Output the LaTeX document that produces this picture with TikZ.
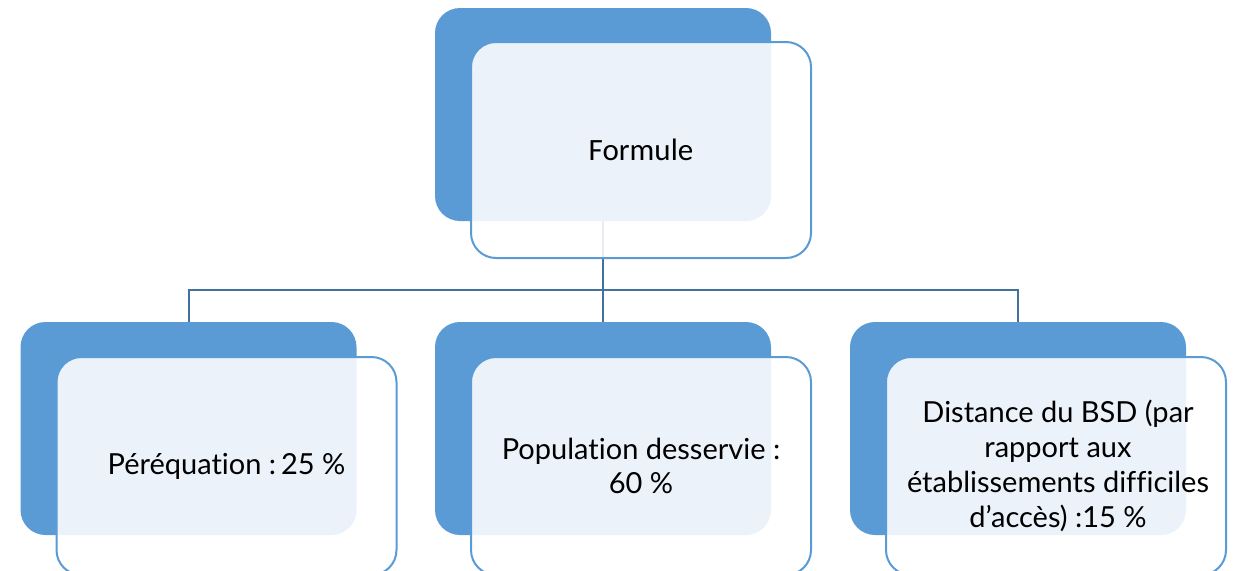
\documentclass[tikz,border=0pt]{standalone}
\usepackage{fontspec}
\setmainfont{Lato}[Ligatures={NoCommon}]
\newfontfamily\calib{Carlito}
\definecolor{accent}{HTML}{5B9BD5}
\definecolor{linkc}{HTML}{41719C}
\begin{document}
\begin{tikzpicture}[x=1pt,y=-1pt,
  backbox/.style={fill=accent, draw=none, rounded corners=25pt, minimum width=336pt, minimum height=213pt, inner sep=0pt},
  frontbox/.style={draw=accent, line width=2pt, fill=white, fill opacity=0.88, text opacity=1, rounded corners=25pt, minimum width=340pt, minimum height=216pt, inner sep=0pt, align=center, font=\fontsize{29}{34.8}\selectfont},
  link/.style={draw=linkc, line width=2pt}]
\useasboundingbox (0,0) rectangle (1236,570);
% back boxes
\node[backbox] (tb) at (603,114.5) {};
\node[backbox] (lb) at (188.5,428.5) {};
\node[backbox] (mb) at (603,428.5) {};
\node[backbox] (rb) at (1018,428.5) {};
% connectors
\coordinate (hub) at (603,290);
\draw[link] (tb.south) -- (hub);
\draw[link] (hub) -| (lb.north);
\draw[link] (hub) -| (rb.north);
\draw[link] (hub) -- (mb.north);
% front boxes
\node[frontbox, font=\calib\fontsize{31}{36}\selectfont] (tf) at (641,150) {Formule};
\node[frontbox, minimum height=218pt] (lf) at (226.5,466) {Péréquation :\,25 \%};
\node[frontbox, minimum height=218pt] (mf) at (641,466) {Population desservie :\\60 \%};
\node[frontbox, minimum height=218pt] (rf) at (1056,466) {\hspace*{4pt}Distance du BSD (par\\\hspace*{4pt}rapport aux\\\hspace*{4pt}établissements difficiles\\\hspace*{4pt}d’accès) :15 \%};
\end{tikzpicture}
\end{document}
